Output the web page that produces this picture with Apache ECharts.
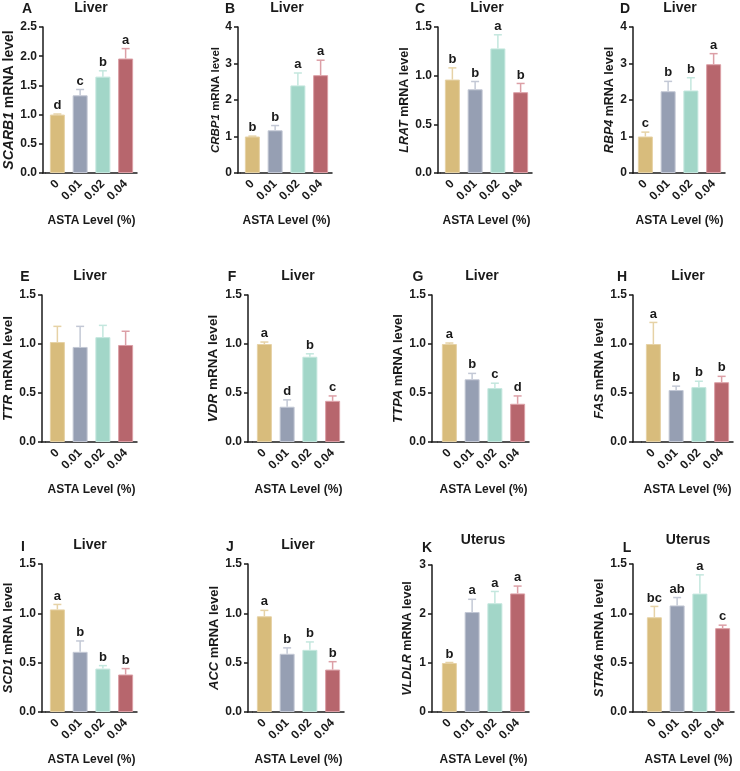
<!DOCTYPE html>
<html>
  <head>
    <meta charset="utf-8">
    <title></title>
    <style>
      html, body { margin: 0; padding: 0; background: #fff; }
      #wrap { width: 740px; height: 771px; }
    </style>
    <script src="https://cdn.jsdelivr.net/npm/echarts@6/dist/echarts.min.js" charset="utf-8"></script>
  </head>
  <body>
    <div id="wrap"></div>
    <script>
    // dietary ASTA level groups
    var groups = ['0', '0.01', '0.02', '0.04'];

    // relative mRNA level (mean), upper error, significance letters
    var SCARB1 = [1.00, 1.33, 1.65, 1.96];
    var SCARB1_err = [0.01, 0.10, 0.10, 0.17];
    var SCARB1_sig = ['d', 'c', 'b', 'a'];

    var CRBP1 = [1.00, 1.17, 2.40, 2.68];
    var CRBP1_err = [0.01, 0.13, 0.34, 0.41];
    var CRBP1_sig = ['b', 'b', 'a', 'a'];

    var LRAT = [0.96, 0.86, 1.28, 0.83];
    var LRAT_err = [0.12, 0.08, 0.14, 0.09];
    var LRAT_sig = ['b', 'b', 'a', 'b'];

    var RBP4 = [1.00, 2.24, 2.26, 2.98];
    var RBP4_err = [0.12, 0.27, 0.35, 0.29];
    var RBP4_sig = ['c', 'b', 'b', 'a'];

    var TTR = [1.02, 0.97, 1.07, 0.99];
    var TTR_err = [0.16, 0.21, 0.12, 0.14];
    var TTR_sig = ['', '', '', ''];

    var VDR = [1.00, 0.36, 0.87, 0.42];
    var VDR_err = [0.02, 0.07, 0.03, 0.05];
    var VDR_sig = ['a', 'd', 'b', 'c'];

    var TTPA = [1.00, 0.64, 0.55, 0.39];
    var TTPA_err = [0.01, 0.06, 0.05, 0.08];
    var TTPA_sig = ['a', 'b', 'c', 'd'];

    var FAS = [1.00, 0.53, 0.56, 0.61];
    var FAS_err = [0.22, 0.04, 0.06, 0.06];
    var FAS_sig = ['a', 'b', 'b', 'b'];

    var SCD1 = [1.04, 0.61, 0.44, 0.38];
    var SCD1_err = [0.05, 0.11, 0.03, 0.06];
    var SCD1_sig = ['a', 'b', 'b', 'b'];

    var ACC = [0.97, 0.59, 0.63, 0.43];
    var ACC_err = [0.06, 0.06, 0.08, 0.08];
    var ACC_sig = ['a', 'b', 'b', 'b'];

    var VLDLR = [1.00, 2.04, 2.22, 2.42];
    var VLDLR_err = [0.01, 0.26, 0.24, 0.15];
    var VLDLR_sig = ['b', 'a', 'a', 'a'];

    var STRA6 = [0.96, 1.08, 1.20, 0.85];
    var STRA6_err = [0.11, 0.08, 0.19, 0.03];
    var STRA6_sig = ['bc', 'ab', 'a', 'c'];

    // y axis ranges
    var yMax = [2.5, 4, 1.5, 4, 1.5, 1.5, 1.5, 1.5, 1.5, 1.5, 3, 1.5];
    var yStep = [0.5, 1, 0.5, 1, 0.5, 0.5, 0.5, 0.5, 0.5, 0.5, 1, 0.5];

    var panels = [
      {letter: 'A', tissue: 'Liver', gene: 'SCARB1', mean: SCARB1, err: SCARB1_err, sig: SCARB1_sig},
      {letter: 'B', tissue: 'Liver', gene: 'CRBP1', mean: CRBP1, err: CRBP1_err, sig: CRBP1_sig},
      {letter: 'C', tissue: 'Liver', gene: 'LRAT', mean: LRAT, err: LRAT_err, sig: LRAT_sig},
      {letter: 'D', tissue: 'Liver', gene: 'RBP4', mean: RBP4, err: RBP4_err, sig: RBP4_sig},
      {letter: 'E', tissue: 'Liver', gene: 'TTR', mean: TTR, err: TTR_err, sig: TTR_sig},
      {letter: 'F', tissue: 'Liver', gene: 'VDR', mean: VDR, err: VDR_err, sig: VDR_sig},
      {letter: 'G', tissue: 'Liver', gene: 'TTPA', mean: TTPA, err: TTPA_err, sig: TTPA_sig},
      {letter: 'H', tissue: 'Liver', gene: 'FAS', mean: FAS, err: FAS_err, sig: FAS_sig},
      {letter: 'I', tissue: 'Liver', gene: 'SCD1', mean: SCD1, err: SCD1_err, sig: SCD1_sig},
      {letter: 'J', tissue: 'Liver', gene: 'ACC', mean: ACC, err: ACC_err, sig: ACC_sig},
      {letter: 'K', tissue: 'Uterus', gene: 'VLDLR', mean: VLDLR, err: VLDLR_err, sig: VLDLR_sig},
      {letter: 'L', tissue: 'Uterus', gene: 'STRA6', mean: STRA6, err: STRA6_err, sig: STRA6_sig}
    ];

    // layout: axis x, plot left, top, height, y name gap/size, title and letter spots
    var layout = [
      {ax: 43,  left: 46,  top: 27,  h: 146, gap: 27, fs: 14,   tx: 91,  ty: 8,   lx: 27,  ly: 9},
      {ax: 238, left: 241, top: 27,  h: 146, gap: 15, fs: 11.5, tx: 287, ty: 8,   lx: 230, ly: 9},
      {ax: 438, left: 441, top: 27,  h: 146, gap: 12, fs: 12.5, tx: 487, ty: 8,   lx: 420, ly: 9},
      {ax: 633, left: 634, top: 27,  h: 146, gap: 14, fs: 12.5, tx: 680, ty: 8,   lx: 625, ly: 9},
      {ax: 42,  left: 46,  top: 295, h: 147, gap: 25, fs: 13.5, tx: 90,  ty: 276, lx: 25,  ly: 277},
      {ax: 248, left: 253, top: 295, h: 147, gap: 28, fs: 13.5, tx: 298, ty: 276, lx: 232, ly: 277},
      {ax: 432, left: 438, top: 295, h: 147, gap: 27, fs: 13,   tx: 482, ty: 276, lx: 418, ly: 277},
      {ax: 633, left: 642, top: 295, h: 147, gap: 23, fs: 13,   tx: 688, ty: 276, lx: 622, ly: 277},
      {ax: 42,  left: 46,  top: 564, h: 148, gap: 25, fs: 13,   tx: 90,  ty: 545, lx: 23,  ly: 547},
      {ax: 248, left: 253, top: 564, h: 148, gap: 26, fs: 13,   tx: 298, ty: 545, lx: 230, ly: 547},
      {ax: 432, left: 438, top: 565, h: 147, gap: 18, fs: 12.5, tx: 483, ty: 540, lx: 427, ly: 548},
      {ax: 633, left: 643, top: 564, h: 148, gap: 22, fs: 13,   tx: 688, ty: 540, lx: 627, ly: 548}
    ];

    var barColors = ['#d8bc7c', '#969fb3', '#a2d6c8', '#b7666d'];
    var errColors = ['#e6d2a6', '#c3c8d5', '#c4e7de', '#dc9fa6'];
    var ink = '#1a1a1a';
    var font = '"Liberation Sans", Arial, sans-serif';

    var grids = [], xAxes = [], yAxes = [], series = [], graphics = [];

    panels.forEach(function (p, i) {
      var L = layout[i];
      grids.push({left: L.left, top: L.top, width: 91, height: L.h});

      xAxes.push({
        type: 'category',
        gridIndex: i,
        data: groups,
        name: 'ASTA Level (%)',
        nameLocation: 'middle',
        nameGap: 42,
        nameTextStyle: {fontFamily: font, fontWeight: 'bold', fontSize: 12, color: ink},
        axisLine: {lineStyle: {color: ink, width: 1.5}},
        axisTick: {alignWithLabel: true, length: 4, lineStyle: {width: 1.5}},
        axisLabel: {interval: 0, rotate: 45, margin: 9, fontFamily: font, fontWeight: 'bold', fontSize: 12, color: ink}
      });

      var dec = yStep[i] < 1 ? 1 : 0;
      yAxes.push({
        type: 'value',
        gridIndex: i,
        min: 0,
        max: yMax[i],
        interval: yStep[i],
        offset: L.left - L.ax,
        name: '{g|' + p.gene + '} mRNA level',
        nameLocation: 'middle',
        nameRotate: 90,
        nameGap: L.gap,
        nameTextStyle: {
          fontFamily: font, fontWeight: 'bold', fontSize: L.fs, color: ink,
          rich: {g: {fontFamily: font, fontWeight: 'bold', fontStyle: 'italic', fontSize: L.fs, color: ink}}
        },
        splitLine: {show: false},
        axisLine: {show: true, lineStyle: {color: ink, width: 1.5}},
        axisTick: {show: true, length: 4, lineStyle: {width: 1.5}},
        axisLabel: {
          margin: 6, fontFamily: font, fontWeight: 'bold', fontSize: 12, color: ink,
          formatter: function (v) { return v.toFixed(dec); }
        }
      });

      series.push({
        type: 'bar',
        xAxisIndex: i,
        yAxisIndex: i,
        barWidth: 15,
        silent: true,
        animation: false,
        data: p.mean.map(function (v, j) {
          return {value: v, itemStyle: {color: barColors[j], borderColor: errColors[j], borderWidth: 1}};
        })
      });

      series.push({
        type: 'custom',
        xAxisIndex: i,
        yAxisIndex: i,
        silent: true,
        animation: false,
        z: 3,
        encode: {x: 0, y: 1},
        data: p.mean.map(function (v, j) { return [j, v + p.err[j]]; }),
        renderItem: function (params, api) {
          var j = params.dataIndex;
          var base = api.coord([j, p.mean[j]]);
          var top = api.coord([j, p.mean[j] + p.err[j]]);
          var c = errColors[j];
          return {
            type: 'group',
            children: [
              {type: 'line', shape: {x1: base[0], y1: base[1], x2: top[0], y2: top[1]}, style: {stroke: c, lineWidth: 1.5}},
              {type: 'line', shape: {x1: top[0] - 4, y1: top[1], x2: top[0] + 4, y2: top[1]}, style: {stroke: c, lineWidth: 1.5}},
              {type: 'text', x: top[0], y: top[1] - 2, style: {
                text: p.sig[j], align: 'center', verticalAlign: 'bottom',
                font: 'bold 13px ' + font, fill: ink
              }}
            ]
          };
        }
      });

      // join the x axis line to the offset y axis
      if (L.left > L.ax) {
        graphics.push({
          type: 'line', silent: true,
          shape: {x1: L.ax - 0.75, y1: L.top + L.h, x2: L.left, y2: L.top + L.h},
          style: {stroke: ink, lineWidth: 1.5}
        });
      }

      graphics.push({
        type: 'text', x: L.tx, y: L.ty,
        style: {text: p.tissue, align: 'center', verticalAlign: 'middle', font: 'bold 14px ' + font, fill: ink}
      });
      graphics.push({
        type: 'text', x: L.lx, y: L.ly,
        style: {text: p.letter, align: 'center', verticalAlign: 'middle', font: 'bold 14px ' + font, fill: ink}
      });
    });

    var chart = echarts.init(document.getElementById('wrap'));
    chart.setOption({
      animation: false,
      grid: grids,
      xAxis: xAxes,
      yAxis: yAxes,
      series: series,
      graphic: graphics
    });
    </script>
  </body>
</html>
